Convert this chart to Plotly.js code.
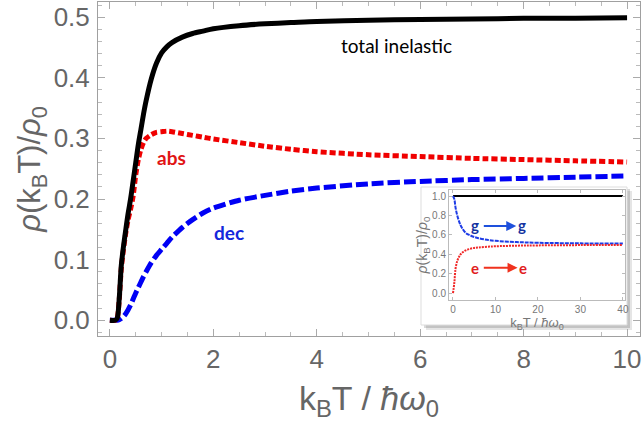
<!DOCTYPE html>
<html>
<head>
<meta charset="utf-8">
<script src="https://cdn.plot.ly/plotly-3.0.1.min.js"></script>
<style>html,body{margin:0;padding:0;background:#fff;}#chart{width:644px;height:431px;}</style>
</head>
<body>
<div id="chart"></div>
<script>
// ---- main chart data (kB T / hbar omega0) ----
const T = [0, 0.1, 0.14, 0.18, 0.22, 0.26, 0.3, 0.35, 0.4, 0.45, 0.5, 0.55, 0.6, 0.65, 0.7, 0.8, 0.9, 1.0, 1.1, 1.2, 1.4, 1.6, 1.8, 2.0, 2.5, 3, 3.5, 4, 5, 6, 7, 8, 9, 10];
const totalInelastic = [0, 0, 0.003, 0.035, 0.09, 0.12, 0.145, 0.175, 0.2, 0.23, 0.26, 0.29, 0.315, 0.34, 0.362, 0.398, 0.424, 0.441, 0.451, 0.458, 0.467, 0.473, 0.477, 0.481, 0.486, 0.489, 0.491, 0.493, 0.495, 0.496, 0.497, 0.498, 0.498, 0.499];
const absorption = [0, 0, 0.003, 0.033, 0.085, 0.115, 0.14, 0.165, 0.183, 0.205, 0.24, 0.265, 0.282, 0.293, 0.3, 0.306, 0.31, 0.311, 0.312, 0.311, 0.308, 0.305, 0.302, 0.299, 0.293, 0.287, 0.282, 0.278, 0.273, 0.27, 0.267, 0.265, 0.263, 0.261];
const decay = [0, 0, 0, 0.001, 0.003, 0.006, 0.01, 0.017, 0.025, 0.035, 0.045, 0.054, 0.063, 0.072, 0.08, 0.095, 0.107, 0.117, 0.127, 0.137, 0.153, 0.166, 0.177, 0.185, 0.198, 0.206, 0.213, 0.218, 0.225, 0.229, 0.232, 0.234, 0.236, 0.238];

// ---- inset data ----
const insetT = [0, 0.3, 0.6, 1, 1.5, 2, 3, 4, 5, 6, 8, 10, 15, 20, 30, 40];
const insetTotal = [1, 1, 1, 1, 1, 1, 1, 1, 1, 1, 1, 1, 1, 1, 1, 1];
const insetGG = [1.0, 0.97, 0.88, 0.80, 0.73, 0.68, 0.62, 0.595, 0.578, 0.565, 0.548, 0.538, 0.525, 0.518, 0.512, 0.51];
const insetEE = [0, 0.1, 0.25, 0.33, 0.38, 0.41, 0.44, 0.455, 0.465, 0.47, 0.477, 0.482, 0.488, 0.491, 0.494, 0.495];

// tick labels
const xTicks = [0, 2, 4, 6, 8, 10];
const yTicks = [0, 0.1, 0.2, 0.3, 0.4, 0.5];
const yTickText = ['0.0', '0.1', '0.2', '0.3', '0.4', '0.5'];
const ixTicks = [0, 10, 20, 30, 40];
const iyTicks = [0, 0.2, 0.4, 0.6, 0.8, 1.0];
const iyTickText = ['0.0', '0.2', '0.4', '0.6', '0.8', '1.0'];

const RED = 'rgb(240,0,0)';
const BLUE = 'rgb(0,0,245)';
const GRAY = '#666';

const traces = [
  {x: T, y: decay, mode: 'lines', line: {color: BLUE, width: 5, dash: '12px,4px', shape: 'spline', smoothing: 0.6}, xaxis: 'x', yaxis: 'y'},
  {x: T, y: absorption, mode: 'lines', line: {color: RED, width: 5, dash: '6px,3px', shape: 'spline', smoothing: 0.6}, xaxis: 'x', yaxis: 'y'},
  {x: T, y: totalInelastic, mode: 'lines', line: {color: 'black', width: 5, shape: 'spline', smoothing: 0.8}, xaxis: 'x', yaxis: 'y'},
  {x: insetT, y: insetTotal, mode: 'lines', line: {color: 'black', width: 2}, xaxis: 'x2', yaxis: 'y2'},
  {x: insetT, y: insetGG, mode: 'lines', line: {color: 'rgb(30,60,230)', width: 2, dash: '4px,1px', shape: 'spline'}, xaxis: 'x2', yaxis: 'y2'},
  {x: insetT, y: insetEE, mode: 'lines', line: {color: 'rgb(240,40,40)', width: 2, dash: '2px,1px', shape: 'spline'}, xaxis: 'x2', yaxis: 'y2'}
];

const px = p => (p - 98) / 542;
const py = p => (336 - p) / 334;

const layout = {
  width: 644, height: 431,
  margin: {l: 98, r: 4, t: 2, b: 95},
  paper_bgcolor: 'white', plot_bgcolor: 'rgba(0,0,0,0)',
  showlegend: false,
  font: {family: 'Liberation Sans, Arial, sans-serif', color: GRAY},
  xaxis: {
    range: [-0.23, 10.25], tickvals: xTicks, ticktext: xTicks.map(String),
    showgrid: false, zeroline: false, showline: true, linecolor: '#a0a0a0', linewidth: 1, mirror: 'allticks',
    ticks: 'inside', ticklen: 7, tickcolor: '#aaa',
    minor: {dtick: 0.5, ticklen: 4, tickcolor: '#bbb', ticks: 'inside', showgrid: false},
    tickfont: {size: 26, color: GRAY},
    title: {text: 'k<sub>B</sub>T / <i>ħω</i><sub>0</sub>', font: {size: 34, color: GRAY}, standoff: 12},
    automargin: false
  },
  yaxis: {
    range: [-0.026, 0.525], tickvals: yTicks, ticktext: yTickText,
    showgrid: false, zeroline: false, showline: true, linecolor: '#a0a0a0', linewidth: 1, mirror: 'allticks',
    ticks: 'inside', ticklen: 7, tickcolor: '#aaa',
    minor: {dtick: 0.02, ticklen: 4, tickcolor: '#bbb', ticks: 'inside', showgrid: false},
    tickfont: {size: 26, color: GRAY}, ticklabelstandoff: 2,
    title: {text: '<i>ρ</i>(k<sub>B</sub>T)/<i>ρ</i><sub>0</sub>', font: {size: 31, color: GRAY}, standoff: 3},
    automargin: false
  },
  xaxis2: {
    domain: [px(449), px(625)], anchor: 'y2',
    range: [-0.94, 40.5], tickvals: ixTicks, ticktext: ixTicks.map(String),
    showgrid: false, zeroline: false, showline: true, linecolor: '#bbb', mirror: 'allticks',
    ticks: 'inside', ticklen: 3, tickcolor: '#bbb',
    tickfont: {size: 10, color: '#777'},
    title: {text: 'k<sub>B</sub>T / <i>ħω</i><sub>0</sub>', font: {size: 13, color: '#777'}, standoff: 2},
    automargin: false
  },
  yaxis2: {
    domain: [py(300), py(190)], anchor: 'x2',
    range: [-0.072, 1.062], tickvals: iyTicks, ticktext: iyTickText,
    showgrid: false, zeroline: false, showline: true, linecolor: '#bbb', mirror: 'allticks',
    ticks: 'inside', ticklen: 3, tickcolor: '#bbb',
    tickfont: {size: 10, color: '#777'},
    title: {text: '<i>ρ</i>(k<sub>B</sub>T)/<i>ρ</i><sub>0</sub>', font: {size: 14, color: '#777'}, standoff: 1},
    automargin: false
  },
  shapes: [
    {type: 'rect', xref: 'paper', yref: 'paper', x0: px(426), x1: px(632), y0: py(330), y1: py(191), fillcolor: 'rgba(0,0,0,0.10)', line: {width: 0}, layer: 'below'},
    {type: 'rect', xref: 'paper', yref: 'paper', x0: px(424), x1: px(630), y0: py(328), y1: py(189), fillcolor: 'rgba(0,0,0,0.15)', line: {width: 0}, layer: 'below'},
    {type: 'rect', xref: 'paper', yref: 'paper', x0: px(421), x1: px(627), y0: py(325), y1: py(187), fillcolor: 'white', line: {color: '#ddd', width: 1}, layer: 'below'}
  ],
  annotations: [
    {x: 5.55, y: 0.454, xref: 'x', yref: 'y', text: 'total inelastic', showarrow: false, font: {family: 'Lato, sans-serif', size: 19, color: 'black'}},
    {x: 1.2, y: 0.269, xref: 'x', yref: 'y', text: '<b>abs</b>', showarrow: false, font: {family: 'Lato, sans-serif', size: 19, color: 'rgb(225,20,20)'}},
    {x: 2.3, y: 0.145, xref: 'x', yref: 'y', text: '<b>dec</b>', showarrow: false, font: {family: 'Lato, sans-serif', size: 19, color: 'rgb(20,40,220)'}},
    {x: 5.2, y: 0.70, xref: 'x2', yref: 'y2', text: '<b>g</b>', showarrow: false, font: {family: 'Lato, sans-serif', size: 15, color: 'rgb(20,50,160)'}},
    {x: 16.2, y: 0.70, xref: 'x2', yref: 'y2', text: '<b>g</b>', showarrow: false, font: {family: 'Lato, sans-serif', size: 15, color: 'rgb(20,50,160)'}},
    {x: 14.9, y: 0.69, ax: 6.9, ay: 0.69, xref: 'x2', yref: 'y2', axref: 'x2', ayref: 'y2', text: '', showarrow: true, arrowhead: 2, arrowsize: 1, arrowwidth: 2, arrowcolor: 'rgb(30,80,220)'},
    {x: 5.2, y: 0.26, xref: 'x2', yref: 'y2', text: '<b>e</b>', showarrow: false, font: {family: 'Lato, sans-serif', size: 15, color: 'rgb(225,30,30)'}},
    {x: 16.6, y: 0.26, xref: 'x2', yref: 'y2', text: '<b>e</b>', showarrow: false, font: {family: 'Lato, sans-serif', size: 15, color: 'rgb(225,30,30)'}},
    {x: 15.2, y: 0.26, ax: 6.9, ay: 0.26, xref: 'x2', yref: 'y2', axref: 'x2', ayref: 'y2', text: '', showarrow: true, arrowhead: 2, arrowsize: 1, arrowwidth: 2, arrowcolor: 'rgb(240,50,30)'}
  ]
};

Plotly.newPlot('chart', traces, layout, {displayModeBar: false, staticPlot: true});
</script>
</body>
</html>
